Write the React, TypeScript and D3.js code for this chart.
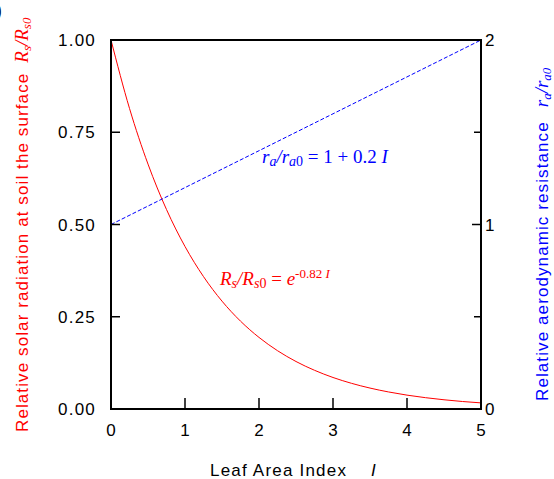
import React from "react";
import * as d3 from "d3";

// Leaf area index samples
const laiValues = [0, 0.25, 0.5, 0.75, 1, 1.25, 1.5, 1.75, 2, 2.25, 2.5, 2.75, 3, 3.25, 3.5, 3.75, 4, 4.25, 4.5, 4.75, 5];
// Relative solar radiation at the soil surface, Rs/Rs0 = e^(-0.82 I)
const rsValues = [1.0, 0.8146, 0.6637, 0.5406, 0.4404, 0.3588, 0.2923, 0.2381, 0.194, 0.158, 0.1287, 0.1049, 0.0854, 0.0696, 0.0567, 0.0462, 0.0376, 0.0307, 0.025, 0.0203, 0.0166];
// Relative aerodynamic resistance, ra/ra0 = 1 + 0.2 I (end points)
const raLai = [0, 5];
const raValues = [1, 2];

const xTicks = [0, 1, 2, 3, 4, 5];
const yLeftTicks = [0, 0.25, 0.5, 0.75, 1];
const yRightTicks = [0, 1, 2];
const yRightMinor = [0.5, 1.5];

const W = 554;
const H = 479;
const M = { left: 111, right: 481, top: 40, bottom: 409 };

const RED = "#ff0000";
const BLUE = "#0000ff";
const SANS = "'Liberation Sans', Arial, Helvetica, sans-serif";
const SERIF = "'Liberation Serif', 'Times New Roman', serif";

export default function App() {
  const x = d3.scaleLinear().domain([0, 5]).range([M.left, M.right]);
  const yL = d3.scaleLinear().domain([0, 1]).range([M.bottom, M.top]);
  const yR = d3.scaleLinear().domain([0, 2]).range([M.bottom, M.top]);

  const rsLine = d3
    .line<number>()
    .x((_, i) => x(laiValues[i]))
    .y((d) => yL(d))
    .curve(d3.curveMonotoneX)(rsValues);

  const raLine = d3
    .line<number>()
    .x((_, i) => x(raLai[i]))
    .y((d) => yR(d))(raValues);

  return (
    <svg width={W} height={H} style={{ position: "absolute", left: 0, top: 0, background: "#fff" }}>
      <text x={-5} y={17} fontFamily={SERIF} fontSize={20} fill="#000">)</text>

      {/* curves */}
      <path d={rsLine ?? ""} fill="none" stroke={RED} strokeWidth={1} />
      <path d={raLine ?? ""} fill="none" stroke={BLUE} strokeWidth={1} strokeDasharray="4,2" />

      {/* frame */}
      <rect x={M.left} y={M.top} width={M.right - M.left} height={M.bottom - M.top} fill="none" stroke="#000" strokeWidth={2} />

      {/* bottom axis */}
      {xTicks.map((t) => (
        <g key={"x" + t}>
          <line x1={x(t)} x2={x(t)} y1={M.bottom} y2={M.bottom - 11} stroke="#000" strokeWidth={1.5} />
          <text x={x(t)} y={436} textAnchor="middle" fontFamily={SANS} fontSize={17} fill="#000">{t}</text>
        </g>
      ))}

      {/* left axis */}
      {yLeftTicks.map((t) => (
        <g key={"yl" + t}>
          <line x1={M.left} x2={M.left + 9} y1={yL(t)} y2={yL(t)} stroke="#000" strokeWidth={1.5} />
          <text x={96} y={yL(t)} dy="0.36em" textAnchor="end" fontFamily={SANS} fontSize={17} letterSpacing={1.2} fill="#000">{t.toFixed(2)}</text>
        </g>
      ))}

      {/* right axis */}
      {yRightTicks.map((t) => (
        <g key={"yr" + t}>
          <line x1={M.right} x2={M.right - 9} y1={yR(t)} y2={yR(t)} stroke="#000" strokeWidth={1.5} />
          <text x={485} y={yR(t)} dy="0.36em" textAnchor="start" fontFamily={SANS} fontSize={17} fill="#000">{t}</text>
        </g>
      ))}
      {yRightMinor.map((t) => (
        <line key={"yrm" + t} x1={M.right} x2={M.right - 7} y1={yR(t)} y2={yR(t)} stroke="#000" strokeWidth={1.5} />
      ))}

      {/* x axis title */}
      <text x={210} y={476} fontFamily={SANS} fontSize={17} letterSpacing={1.2} fill="#000">
        Leaf Area Index
        <tspan x={371} fontStyle="italic">I</tspan>
      </text>

      {/* left axis title */}
      <text transform="translate(28,432) rotate(-90)" fontFamily={SANS} fontSize={17} letterSpacing={1.1} fill={RED}>
        Relative solar radiation at soil the surface
        <tspan dx={10} fontFamily={SERIF} fontStyle="italic" fontSize={19} letterSpacing={0}>R</tspan>
        <tspan fontFamily={SERIF} fontStyle="italic" fontSize={13} letterSpacing={0} dy={3}>s</tspan>
        <tspan fontFamily={SERIF} fontStyle="italic" fontSize={19} letterSpacing={0} dy={-3}>/R</tspan>
        <tspan fontFamily={SERIF} fontStyle="italic" fontSize={13} letterSpacing={0} dy={3}>s0</tspan>
      </text>

      {/* right axis title */}
      <text transform="translate(548,401) rotate(-90)" fontFamily={SANS} fontSize={17} letterSpacing={1.1} fill={BLUE}>
        Relative aerodynamic resistance
        <tspan dx={14} fontFamily={SERIF} fontStyle="italic" fontSize={19} letterSpacing={0}>r</tspan>
        <tspan fontFamily={SERIF} fontStyle="italic" fontSize={13} letterSpacing={0} dy={3}>a</tspan>
        <tspan fontFamily={SERIF} fontStyle="italic" fontSize={19} letterSpacing={0} dy={-3}>/r</tspan>
        <tspan fontFamily={SERIF} fontStyle="italic" fontSize={13} letterSpacing={0} dy={3}>a0</tspan>
      </text>

      {/* annotations */}
      <text x={262} y={163} fontFamily={SERIF} fontSize={19} fill={BLUE}>
        <tspan fontStyle="italic">r</tspan>
        <tspan fontStyle="italic" fontSize={14} dy={3}>a</tspan>
        <tspan fontStyle="italic" dy={-3}>/r</tspan>
        <tspan fontStyle="italic" fontSize={14} dy={3}>a</tspan>
        <tspan fontSize={14}>0</tspan>
        <tspan dy={-3}>{"\u00a0= 1 + 0.2\u00a0"}</tspan>
        <tspan fontStyle="italic">I</tspan>
      </text>
      <text x={220} y={285} fontFamily={SERIF} fontSize={19} fill={RED}>
        <tspan fontStyle="italic">R</tspan>
        <tspan fontStyle="italic" fontSize={14} dy={3}>s</tspan>
        <tspan fontStyle="italic" dy={-3}>/R</tspan>
        <tspan fontStyle="italic" fontSize={14} dy={3}>s</tspan>
        <tspan fontSize={14}>0</tspan>
        <tspan dy={-3}>{"\u00a0= "}</tspan>
        <tspan fontStyle="italic">e</tspan>
        <tspan fontSize={13} dy={-7}>{"-0.82\u00a0"}</tspan>
        <tspan fontSize={13} fontStyle="italic">I</tspan>
      </text>
    </svg>
  );
}
